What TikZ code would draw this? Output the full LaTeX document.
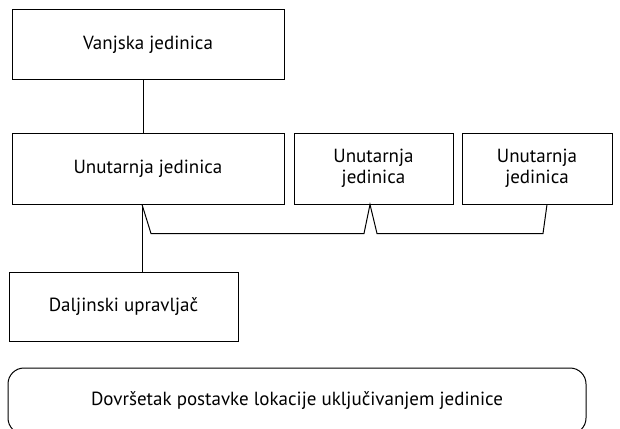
\documentclass[tikz,border=0pt]{standalone}
\usepackage{fontspec}
\setmainfont{PT Sans}
\usetikzlibrary{calc}

\tikzset{
  jedbox/.style={draw, line width=1pt, rectangle, inner sep=0pt, align=center,
    font=\fontsize{19}{21.5}\selectfont},
  veza/.style={draw, line width=1pt}
}

\begin{document}
\begin{tikzpicture}[x=1pt,y=1pt,yscale=-1,xscale=1]
\useasboundingbox (0,0) rectangle (620,428);

% Box: outdoor unit
\node [jedbox, minimum width=272, minimum height=69] (vanjska) at (148,44.5) {Vanjska jedinica};
% Box: indoor units
\node [jedbox, minimum width=272, minimum height=71] (unutarnja1) at (148,168.5) {Unutarnja jedinica};
\node [jedbox, minimum width=159, minimum height=71] (unutarnja2) at (373.5,168.5) {Unutarnja\\jedinica};
\node [jedbox, minimum width=150, minimum height=71] (unutarnja3) at (537,168.5) {Unutarnja\\jedinica};
% Box: remote control
\node [jedbox, minimum width=229, minimum height=69] (daljinski) at (123.5,306.5) {Daljinski upravljač};
% Rounded box at the bottom
\node [jedbox, rounded corners=16pt, minimum width=578, minimum height=66] (dovrsetak) at (297,401) {Dovršetak postavke lokacije uključivanjem jedinice};

% Connectors
\coordinate (a1) at ([xshift=-6pt]unutarnja1.south);
\coordinate (a2) at ([xshift=-3.5pt]unutarnja2.south);
\coordinate (a3) at ([xshift=10pt]unutarnja3.south);

\draw [veza] ([xshift=-5pt]vanjska.south) -- ([xshift=-5pt]unutarnja1.north);
\draw [veza] (a1) -- ([xshift=18.5pt]daljinski.north);
\draw [veza] (a1) -- ++(9,29) -- ($(a2)+(-6,29)$) -- (a2) -- ++(7,29) -- ($(a3)+(-4,29)$) -- (a3);

\end{tikzpicture}
\end{document}
